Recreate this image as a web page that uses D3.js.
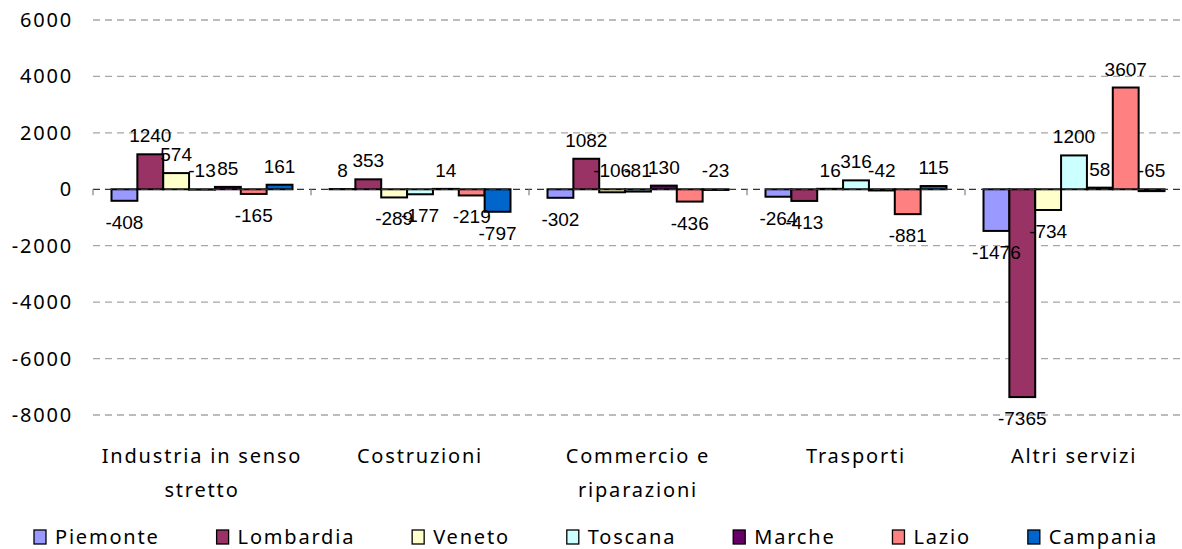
<!DOCTYPE html>
<html>
<head>
<meta charset="utf-8">
<script src="https://cdn.jsdelivr.net/npm/d3@7"></script>
<style>
  body { margin: 0; background: #fff; }
  .tick-label, .cat-label, .legend-label { font-family: "Noto Sans", sans-serif; font-size: 20px; letter-spacing: 1.8px; fill: #000; }
  .value-label { font-family: "Liberation Sans", Arial, sans-serif; font-size: 19px; fill: #000; }
</style>
</head>
<body>
<svg id="chart"></svg>
<script>
// categories and series
const categories = ["Industria in senso\nstretto", "Costruzioni", "Commercio e\nriparazioni", "Trasporti", "Altri servizi"];
const regions = ["Piemonte", "Lombardia", "Veneto", "Toscana", "Marche", "Lazio", "Campania"];
const colors = ["#9999FF", "#993366", "#FFFFCC", "#CCFFFF", "#660066", "#FF8080", "#0066CC"];

const piemonte  = [-408, 8, -302, -264, -1476];
const lombardia = [1240, 353, 1082, -413, -7365];
const veneto    = [574, -289, -106, 16, -734];
const toscana   = [-13, -177, -81, 316, 1200];
const marche    = [85, 14, 130, -42, 58];
const lazio     = [-165, -219, -436, -881, 3607];
const campania  = [161, -797, -23, 115, -65];

const yTicks = [6000, 4000, 2000, 0, -2000, -4000, -6000, -8000];

const seriesValues = [piemonte, lombardia, veneto, toscana, marche, lazio, campania];

let width = 1182, height = 549;
let plot = { left: 93, right: 1183, top: 20, bottom: 415 };

let svg = d3.select("#chart").attr("width", width).attr("height", height);

let x0 = d3.scaleBand()
    .domain(categories)
    .range([plot.left, plot.right]);

let x1 = d3.scaleBand()
    .domain(regions)
    .range([18.5, x0.bandwidth() - 18.5]);

let y = d3.scaleLinear()
    .domain([-8000, 6000])
    .range([plot.bottom, plot.top]);

// gridlines (zero line drawn later, darker)
svg.append("g")
    .selectAll("line")
    .data(yTicks.filter(d => d !== 0))
    .enter()
    .append("line")
        .attr("x1", plot.left)
        .attr("x2", plot.right)
        .attr("y1", d => y(d))
        .attr("y2", d => y(d))
        .attr("stroke", "#a6a6a6")
        .attr("stroke-width", 1.3)
        .attr("stroke-dasharray", "7,5");

// y tick labels
svg.append("g")
    .selectAll("text")
    .data(yTicks)
    .enter()
    .append("text")
        .attr("class", "tick-label")
        .attr("x", 73)
        .attr("y", d => y(d) + 7)
        .attr("text-anchor", "end")
        .text(d => d);

// bars
let data = [];
categories.forEach((c, ci) => {
    regions.forEach((r, ri) => {
        data.push({ cat: c, region: r, value: seriesValues[ri][ci], color: colors[ri] });
    });
});

let bars = svg.append("g");
bars.selectAll("rect")
    .data(data)
    .enter()
    .append("rect")
        .attr("x", d => x0(d.cat) + x1(d.region))
        .attr("width", x1.bandwidth())
        .attr("y", d => y(Math.max(0, d.value)))
        .attr("height", d => Math.abs(y(d.value) - y(0)))
        .attr("fill", d => d.color)
        .attr("stroke", "#000")
        .attr("stroke-width", 2);

// zero line with category ticks
svg.append("line")
    .attr("x1", plot.left)
    .attr("x2", plot.right)
    .attr("y1", y(0))
    .attr("y2", y(0))
    .attr("stroke", "#333")
    .attr("stroke-width", 1.3)
    .attr("stroke-dasharray", "7,5");

svg.append("g")
    .selectAll("line")
    .data(categories.map(c => x0(c)))
    .enter()
    .append("line")
        .attr("x1", d => d)
        .attr("x2", d => d)
        .attr("y1", y(0))
        .attr("y2", y(0) + 6)
        .attr("stroke", "#808080")
        .attr("stroke-width", 1.2);

// value labels: small negatives sit above the axis like in the original
svg.append("g")
    .selectAll("text")
    .data(data)
    .enter()
    .append("text")
        .attr("class", "value-label")
        .attr("text-anchor", "middle")
        .attr("x", d => x0(d.cat) + x1(d.region) + x1.bandwidth() / 2)
        .attr("y", d => {
            if (d.value >= 0) return y(d.value) - 12;
            if (d.value > -150) return y(0) - 12;
            return y(d.value) + 28;
        })
        .text(d => d.value);

// category labels
let catLabels = svg.append("g")
    .selectAll("text")
    .data(categories)
    .enter()
    .append("text")
        .attr("class", "cat-label")
        .attr("text-anchor", "middle")
        .attr("x", d => x0(d) + x0.bandwidth() / 2)
        .attr("y", 463);

catLabels.selectAll("tspan")
    .data(d => d.split("\n"))
    .enter()
    .append("tspan")
        .attr("x", function() { return d3.select(this.parentNode).attr("x"); })
        .attr("dy", (d, i) => i === 0 ? 0 : 34)
        .text(d => d);

// legend
let legend = svg.append("g");
let lx = 34;
regions.forEach((r, i) => {
    legend.append("rect")
        .attr("x", lx)
        .attr("y", 530)
        .attr("width", 12)
        .attr("height", 14)
        .attr("fill", colors[i])
        .attr("stroke", "#000")
        .attr("stroke-width", 1.3);
    let t = legend.append("text")
        .attr("class", "legend-label")
        .attr("x", lx + 21)
        .attr("y", 544)
        .text(r);
    lx = lx + 21 + t.node().getComputedTextLength() + 57;
});
</script>
</body>
</html>
